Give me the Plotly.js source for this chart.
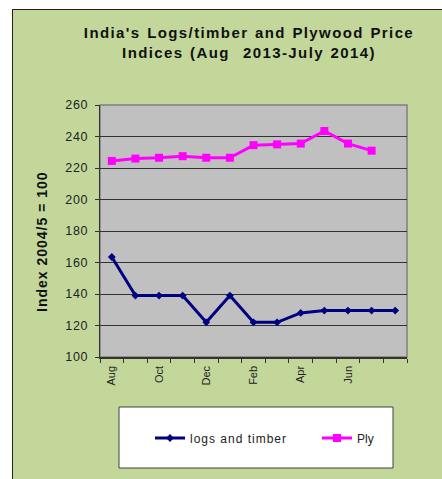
<!DOCTYPE html>
<html>
<head>
<meta charset="utf-8">
<script src="https://cdn.plot.ly/plotly-3.0.1.min.js"></script>
<style>
  html, body { margin:0; padding:0; background:#ffffff; width:442px; height:479px; overflow:hidden; }
  #frame { position:absolute; left:12px; top:9px; width:440px; height:480px; background:#c4d79b; border-left:1px solid #222; border-top:1px solid #222; }
  #chart { position:absolute; left:0; top:0; width:442px; height:479px; }
  #chart .gtitle { letter-spacing:1.4px; word-spacing:1px; }
  #chart .annotation-text { letter-spacing:1px; }
  #chart .legendtext { letter-spacing:1px; }
  #chart .legend .scrollbox { clip-path:none !important; }
  #chart .ytick text { letter-spacing:0.6px; }
</style>
</head>
<body>
<div id="frame"></div>
<div id="chart"></div>
<script>
// ---- data ----
const months = ['Aug','Sep','Oct','Nov','Dec','Jan','Feb','Mar','Apr','May','Jun','Jul','Aug '];
const tickLabels = ['Aug','Oct','Dec','Feb','Apr','Jun'];
const logsTimber = [163.5, 139, 139, 139, 122, 139, 122, 122, 128, 129.5, 129.5, 129.5, 129.5];
const plywood = [224.5, 226, 226.5, 227.5, 226.5, 226.5, 234.5, 235, 235.5, 243.5, 235.5, 231, null];
const yTicks = [100, 120, 140, 160, 180, 200, 220, 240, 260];

// ---- layout constants ----
const W = 442, H = 479;
const M = {l:100, r:35, t:105, b:122};
const pw = W - M.l - M.r, ph = H - M.t - M.b;
const px = x => (x - M.l) / pw;
const py = y => (H - M.b - y) / ph;

const xIdx = months.map((m, i) => i);
const tickIdx = tickLabels.map(t => months.indexOf(t));
const boundaries = months.map((m, i) => i - 0.5).concat([months.length - 0.5]);

const traces = [
  {
    x: xIdx, y: logsTimber, name: 'logs and timber', type: 'scatter', mode: 'lines+markers',
    line: {color: '#000080', width: 3},
    marker: {symbol: 'diamond', size: 6, color: '#000080'},
    legend: 'legend'
  },
  {
    x: xIdx, y: plywood, name: 'Ply', type: 'scatter', mode: 'lines+markers',
    line: {color: '#ff00ff', width: 3},
    marker: {symbol: 'square', size: 8, color: '#ff00ff'},
    legend: 'legend2'
  }
];

const legendCommon = {
  orientation: 'h', xanchor: 'left', yanchor: 'middle',
  bgcolor: 'rgba(0,0,0,0)', borderwidth: 0,
  font: {size: 12, color: '#222'}
};

const layout = {
  width: W, height: H,
  margin: M,
  paper_bgcolor: 'rgba(0,0,0,0)',
  plot_bgcolor: '#c0c0c0',
  font: {family: 'Liberation Sans, Arial, sans-serif', color: '#222'},
  title: {
    text: "India's Logs/timber and Plywood Price<br>Indices (Aug  2013-July 2014)",
    font: {size: 15, color: '#111', weight: 'bold'},
    x: 249 / W, xanchor: 'center',
    y: 1 - 38 / H, yanchor: 'middle'
  },
  xaxis: {
    type: 'linear', range: [-0.5, months.length - 0.5], fixedrange: true,
    tickmode: 'array', tickvals: tickIdx, ticktext: tickLabels,
    tickangle: -90, ticks: '', showgrid: false, zeroline: false,
    showline: true, linecolor: '#333', linewidth: 1.5,
    tickfont: {size: 11, color: '#222'},
    ticklabelstandoff: 3,
    minor: {tickmode: 'array', tickvals: boundaries, ticks: 'outside', ticklen: 4, tickcolor: '#333', tickwidth: 1, showgrid: false}
  },
  yaxis: {
    range: [100, 260], fixedrange: true,
    tickmode: 'array', tickvals: yTicks,
    ticks: 'outside', ticklen: 4, tickcolor: '#333', tickwidth: 1,
    showline: true, linecolor: '#333', linewidth: 1.5,
    showgrid: true, gridcolor: '#333', gridwidth: 1, zeroline: false,
    tickfont: {size: 12.5, color: '#222'},
    ticklabelstandoff: 4
  },
  annotations: [
    {text: 'Index 2004/5 = 100', xref: 'paper', yref: 'paper', x: px(42), y: py(242),
     xanchor: 'center', yanchor: 'middle', textangle: -90, showarrow: false,
     font: {size: 14, color: '#111', weight: 'bold'}}
  ],
  showlegend: true,
  legend: Object.assign({}, legendCommon, {x: px(150), y: py(438)}),
  legend2: Object.assign({}, legendCommon, {x: px(317), y: py(438)}),
  shapes: [
    {type: 'rect', xref: 'paper', yref: 'paper', x0: 0, x1: 1, y0: 0, y1: 1, layer: 'below',
     line: {color: '#808080', width: 1.5}},
    {type: 'rect', xref: 'paper', yref: 'paper', x0: px(119), x1: px(393), y0: py(468), y1: py(407), layer: 'below',
     fillcolor: '#ffffff', line: {color: '#404040', width: 1}}
  ]
};

Plotly.newPlot('chart', traces, layout, {displayModeBar: false, staticPlot: true});
</script>
</body>
</html>
